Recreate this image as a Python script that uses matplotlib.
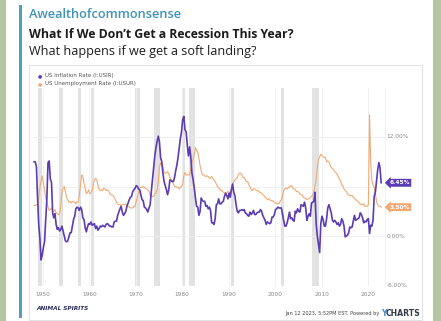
import matplotlib
matplotlib.use("Agg")
import matplotlib.pyplot as plt
from matplotlib.patches import Rectangle

# quarterly readings, 1948 Q1 .. 2022 Q4
years = list(range(1948, 2023))

inflation = [
    9.0, 9.0, 8.4, 4.6,   1.4, -0.3, -2.9, -2.3,   -1.4, -0.7, 2.0, 4.5,
    8.9, 9.1, 6.9, 6.5,   2.8, 2.2, 2.7, 1.4,   0.8, 1.0, 0.6, 0.8,
    1.2, 0.6, 0.0, -0.6,   -0.7, -0.6, -0.1, 0.4,   0.4, 1.2, 2.0, 2.4,
    3.3, 3.5, 3.4, 3.1,   3.5, 3.2, 2.2, 2.0,   1.0, 0.5, 1.1, 1.5,
    1.4, 1.7, 1.3, 1.4,   1.5, 0.9, 1.2, 0.7,   0.9, 1.2, 1.1, 1.3,
    1.2, 1.1, 1.4, 1.5,   1.4, 1.2, 1.2, 1.1,   1.1, 1.7, 1.8, 1.8,
    2.5, 2.9, 3.3, 3.6,   2.9, 2.5, 2.7, 3.0,   3.6, 4.0, 4.4, 4.7,
    4.8, 5.4, 5.6, 5.8,   6.1, 6.0, 5.7, 5.6,   5.0, 4.4, 4.3, 3.5,
    3.4, 3.2, 2.9, 3.4,   3.8, 5.4, 6.8, 8.1,   9.7, 10.7, 11.5, 12.1,
    11.4, 9.5, 9.0, 7.6,   6.6, 6.1, 5.6, 5.0,   5.6, 6.8, 6.7, 6.6,
    6.6, 7.1, 7.9, 8.6,   9.5, 10.6, 11.8, 12.6,   14.1, 14.5, 12.9, 12.6,
    11.0, 9.7, 10.8, 9.6,   7.6, 6.8, 5.8, 4.6,   3.6, 3.5, 2.5, 3.0,
    4.6, 4.3, 4.2, 4.2,   3.6, 3.7, 3.3, 3.5,   3.1, 1.6, 1.6, 1.4,
    2.1, 3.8, 3.9, 4.5,   3.9, 3.9, 4.1, 4.2,   4.8, 5.2, 4.9, 4.5,
    5.2, 4.7, 5.6, 6.3,   5.3, 4.9, 3.8, 3.0,   2.8, 3.1, 3.1, 3.2,
    3.1, 3.2, 2.8, 2.7,   2.5, 2.4, 2.9, 2.6,   2.8, 3.1, 2.6, 2.6,
    2.8, 2.9, 2.9, 3.2,   3.0, 2.5, 2.2, 1.9,   1.4, 1.7, 1.6, 1.5,
    1.6, 2.3, 2.3, 2.6,   3.2, 3.3, 3.5, 3.4,   3.4, 3.4, 2.7, 1.9,
    1.2, 1.2, 1.6, 2.2,   2.9, 2.1, 2.2, 1.9,   1.8, 3.0, 2.8, 3.3,
    3.0, 2.9, 3.8, 3.7,   3.6, 4.1, 3.4, 1.9,   2.4, 2.7, 2.4, 4.0,
    4.1, 4.2, 5.3, 1.5,   0.0, -1.0, -2.0, 1.5,   2.4, 2.0, 1.2, 1.2,
    2.1, 3.4, 3.8, 3.3,   2.8, 1.9, 1.7, 1.9,   1.7, 1.4, 1.6, 1.2,
    1.4, 2.1, 1.8, 1.2,   -0.1, 0.0, 0.1, 0.4,   1.1, 1.0, 1.1, 1.8,
    2.5, 1.9, 2.0, 2.1,   2.2, 2.8, 2.6, 2.2,   1.6, 1.8, 1.7, 2.0,
    2.1, 0.3, 1.3, 1.2,   1.9, 4.8, 5.3, 6.7,   8.0, 8.9, 8.3, 6.45,
]

unemployment = [
    3.7, 3.7, 3.8, 3.8,   4.7, 5.9, 6.7, 7.3,   6.4, 5.6, 4.6, 4.2,
    3.5, 3.1, 3.2, 3.4,   3.1, 3.0, 3.2, 2.8,   2.7, 2.6, 2.7, 3.7,
    5.3, 5.8, 6.0, 5.3,   4.7, 4.4, 4.1, 4.2,   4.0, 4.2, 4.1, 4.1,
    3.9, 4.1, 4.2, 4.9,   6.3, 7.4, 7.3, 6.4,   5.8, 5.1, 5.3, 5.6,
    5.1, 5.2, 5.5, 6.3,   6.8, 7.0, 6.8, 6.2,   5.6, 5.5, 5.6, 5.5,
    5.8, 5.7, 5.5, 5.6,   5.5, 5.2, 5.0, 5.0,   4.9, 4.7, 4.4, 4.1,
    3.9, 3.8, 3.8, 3.7,   3.8, 3.8, 3.8, 3.9,   3.7, 3.6, 3.5, 3.4,
    3.4, 3.4, 3.6, 3.6,   4.2, 4.8, 5.2, 5.8,   5.9, 5.9, 6.0, 5.9,
    5.8, 5.7, 5.6, 5.4,   4.9, 4.9, 4.8, 4.8,   5.1, 5.2, 5.6, 6.6,
    8.3, 8.9, 8.5, 8.3,   7.7, 7.6, 7.7, 7.8,   7.5, 7.1, 6.9, 6.7,
    6.3, 6.0, 6.0, 5.9,   5.9, 5.7, 5.9, 6.0,   6.3, 7.3, 7.7, 7.4,
    7.4, 7.4, 7.4, 8.2,   8.8, 9.4, 9.9, 10.7,   10.4, 10.1, 9.4, 8.5,
    7.9, 7.4, 7.4, 7.3,   7.2, 7.3, 7.2, 7.0,   7.0, 7.2, 7.0, 6.8,
    6.6, 6.3, 6.0, 5.8,   5.7, 5.5, 5.5, 5.3,   5.2, 5.2, 5.2, 5.4,
    5.3, 5.3, 5.7, 6.1,   6.6, 6.8, 6.9, 7.1,   7.4, 7.6, 7.6, 7.4,
    7.1, 7.1, 6.8, 6.6,   6.6, 6.2, 6.0, 5.6,   5.5, 5.7, 5.7, 5.6,
    5.5, 5.5, 5.3, 5.3,   5.2, 5.0, 4.9, 4.7,   4.6, 4.4, 4.5, 4.4,
    4.3, 4.3, 4.2, 4.1,   4.0, 3.9, 4.0, 3.9,   4.2, 4.4, 4.8, 5.5,
    5.7, 5.8, 5.7, 5.9,   5.9, 6.1, 6.1, 5.8,   5.7, 5.6, 5.4, 5.4,
    5.3, 5.1, 5.0, 5.0,   4.7, 4.6, 4.6, 4.4,   4.5, 4.5, 4.7, 4.8,
    5.0, 5.3, 6.0, 6.9,   8.3, 9.3, 9.6, 9.9,   9.8, 9.6, 9.5, 9.5,
    9.0, 9.1, 9.0, 8.6,   8.3, 8.2, 8.0, 7.8,   7.7, 7.5, 7.2, 6.9,
    6.7, 6.2, 6.1, 5.7,   5.5, 5.4, 5.1, 5.0,   4.9, 4.9, 4.9, 4.7,
    4.6, 4.4, 4.3, 4.2,   4.0, 3.9, 3.8, 3.8,   3.9, 3.6, 3.6, 3.6,
    3.8, 14.7, 8.8, 6.8,   6.2, 5.9, 5.1, 4.2,   3.8, 3.6, 3.6, 3.5,
]

# NBER recessions (start, end) as decimal years
recessions = [
    (1948.83, 1949.75), (1953.50, 1954.33), (1957.58, 1958.25),
    (1960.25, 1961.08), (1969.92, 1970.83), (1973.83, 1975.17),
    (1980.00, 1980.50), (1981.50, 1982.83), (1990.50, 1991.17),
    (2001.17, 2001.83), (2007.92, 2009.42), (2020.08, 2020.25),
]

xticks = [1950, 1960, 1970, 1980, 1990, 2000, 2010, 2020]
ytick_labels = {12: "12.00%", 0: "0.00%", -6: "-6.00%"}

dates = [y + (3 * q + 1) / 12 for y in years for q in range(4)]

PURPLE = "#5b3cb4"
ORANGE = "#f2aa72"
GREY_TXT = "#8a8a8a"

W, H = 441, 321
fig = plt.figure(figsize=(W / 100, H / 100), dpi=100)
fig.patch.set_facecolor("#b4c6a2")

def px_rect(x0, y0, x1, y1, **kw):
    # rectangle given in pixel coords measured from the top-left corner
    fig.patches.append(Rectangle((x0 / W, 1 - y1 / H), (x1 - x0) / W, (y1 - y0) / H,
                                 transform=fig.transFigure, figure=fig, zorder=-10, **kw))

px_rect(6, -2, 433, H + 2, facecolor="white", edgecolor="none")
px_rect(19, 5, 22, 318, facecolor="#4f9fbf", edgecolor="none")
px_rect(28.5, 65, 421.5, 320, facecolor="white", edgecolor="#e4e4e4", linewidth=0.8)

# header text
hfont = ["Open Sans", "DejaVu Sans"]
fig.text(29 / W, 1 - 15 / H, "Awealthofcommonsense", color="#3f93b8",
         fontsize=9.2, fontweight="semibold", family=hfont, va="center")
fig.text(29 / W, 1 - 34 / H, "What If We Don\u2019t Get a Recession This Year?", color="#1c1c1c",
         fontsize=8.8, fontweight="bold", family=hfont, va="center")
fig.text(29 / W, 1 - 52 / H, "What happens if we get a soft landing?", color="#1c1c1c",
         fontsize=9.1, family=hfont, va="center")

ax = fig.add_axes([33 / W, 1 - 285.5 / H, (385 - 33) / W, (285.5 - 87.5) / H])
ax.set_zorder(2)
ax.patch.set_alpha(0)
ax.set_xlim(1947.85, 2023.66)
ax.set_ylim(-6, 18)

for s, e in recessions:
    ax.axvspan(s, e, color="#e2e2e2", lw=0, zorder=0)

for t in xticks:
    ax.axvline(t, color="#f1f1f1", lw=0.6, zorder=0.5)
for v in (12, 6, 0, -6):
    ax.axhline(v, color="#ededed", lw=0.6, zorder=0.5)

ax.plot(dates, unemployment, color=ORANGE, lw=0.8, zorder=2)
ax.plot(dates, inflation, color=PURPLE, lw=1.2, zorder=3)

ax.set_xticks(xticks)
ax.set_xticklabels([str(t) for t in xticks], fontsize=4.2, color=GREY_TXT)
ax.set_yticks([])
ax.tick_params(axis="x", length=0, pad=5)
for sp in ("top", "left", "bottom"):
    ax.spines[sp].set_visible(False)
ax.spines["right"].set_color("#eeeeee")
ax.spines["right"].set_linewidth(0.6)

for v, lab in ytick_labels.items():
    ax.text(1.005, v, lab, transform=ax.get_yaxis_transform(), fontsize=4.2,
            color=GREY_TXT, va="center", ha="left")

# end-of-line value tags
for val, col in ((inflation[-1], PURPLE), (unemployment[-1], ORANGE)):
    ax.annotate(f"{val:.2f}%", xy=(1.0, val), xycoords=ax.get_yaxis_transform(),
                xytext=(3, 0), textcoords="offset points", fontsize=4.2,
                color="white", fontweight="bold", va="center", ha="left",
                bbox=dict(boxstyle="larrow,pad=0.25", fc=col, ec="none"),
                annotation_clip=False, zorder=5)

# legend
fig.text(38 / W, 1 - 76 / H, "\u25cf", color=PURPLE, fontsize=3.5, va="center")
fig.text(45 / W, 1 - 76 / H, "US Inflation Rate (I:USIR)", color="#555555", fontsize=4.0, va="center")
fig.text(38 / W, 1 - 83.5 / H, "\u25cf", color=ORANGE, fontsize=3.5, va="center")
fig.text(45 / W, 1 - 83.5 / H, "US Unemployment Rate (I:USUR)", color="#555555", fontsize=4.0, va="center")

# footer
fig.text(36 / W, 1 - 309 / H, "ANIMAL SPIRITS", color="#2a2d5c", fontsize=4.6,
         fontweight="bold", fontstretch="condensed", style="italic", va="center")
fig.text(380 / W, 1 - 313.5 / H, "Jan 12 2023, 5:52PM EST. Powered by", color="#444444",
         fontsize=3.6, va="center", ha="right")
fig.text(381 / W, 1 - 313.5 / H, "Y", color="#3c8fd0", fontsize=5.6, fontweight="bold", va="center")
fig.text(386 / W, 1 - 313.5 / H, "CHARTS", color="#333a45", fontsize=5.6, fontweight="bold", va="center")

fig.savefig("out.png", dpi=100, facecolor=fig.get_facecolor())
